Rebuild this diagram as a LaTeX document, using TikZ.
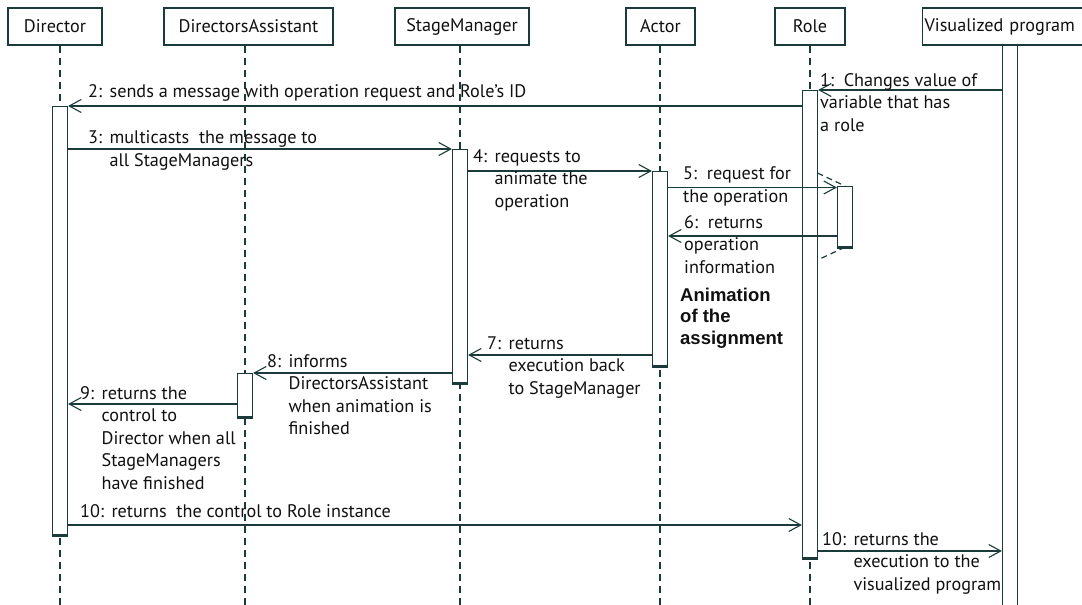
\documentclass[tikz,border=0pt]{standalone}
\usepackage{fontspec}
\setmainfont{PT Sans}
\newfontfamily\notefont{Liberation Sans}
\usetikzlibrary{arrows.meta}
\definecolor{seqline}{HTML}{1B3A3A}
\definecolor{seqtext}{HTML}{101010}

% message label: number, then the text lines aligned after it
\newcommand{\msglabel}[2]{\begin{tabular}[t]{@{}l@{\hspace{7.5pt}}l@{}}#1&\begin{tabular}[t]{@{}l@{}}#2\end{tabular}\end{tabular}}
% message label whose lines all start at the number
\newcommand{\flatlabel}[1]{\begin{tabular}[t]{@{}l@{}}#1\end{tabular}}

\begin{document}
\begin{tikzpicture}[x=1pt,y=-1pt,
  every node/.style={text=seqtext},
  obj/.style={draw=seqline, line width=1.2pt, fill=white, inner sep=0pt,
    minimum height=37pt, font=\fontsize{18.2}{22.5}\selectfont},
  life/.style={draw=seqline, line width=1.2pt, dash pattern=on 7pt off 5pt},
  actbar/.style={draw=seqline, line width=1.2pt, fill=white, inner sep=0pt,
    minimum width=15pt, anchor=north},
  barbase/.style={draw=seqline, line width=3pt},
  msg/.style={draw=seqline, line width=1.1pt,
    -{Straight Barb[length=12pt,width=13pt]}},
  lbl/.style={anchor=base west, inner sep=0pt,
    font=\fontsize{18.2}{22.5}\selectfont},
  note/.style={anchor=base west, inner sep=0pt,
    font=\notefont\bfseries\fontsize{18.5}{21.5}\selectfont}
]
\useasboundingbox (0,0) rectangle (1082,605);
\clip (0,0) rectangle (1082,605);

% participants
\node[obj, minimum width=94pt]  (director)  at (55,26.5)    {Director};
\node[obj, minimum width=169pt] (assistant) at (248.5,26.5) {DirectorsAssistant};
\node[obj, minimum width=134pt] (stage)     at (462,26.5)   {StageManager};
\node[obj, minimum width=69pt]  (actor)     at (660.5,26.5) {Actor};
\node[obj, minimum width=70pt]  (role)      at (810,26.5)   {Role};
\node[obj, anchor=west, text width=171pt, align=left, inner xsep=2pt]
  (vprog) at (922,26.5) {Visualized program};

% lifelines
\coordinate (dirend)  at (60,605);
\coordinate (asend)   at (245,605);
\coordinate (smend)   at (460,605);
\coordinate (acend)   at (660,605);
\coordinate (roend)   at (810,605);
\draw[life] (dirend |- director.south) -- (dirend);
\draw[life] (asend |- assistant.south) -- (asend);
\draw[life] (smend |- stage.south) -- (smend);
\draw[life] (acend |- actor.south) -- (acend);
\draw[life] (roend |- role.south) -- (roend);

% activation bars
\node[actbar, minimum height=428pt] (dirbar)  at (60,106)  {};
\node[actbar, minimum height=467pt] (rolebar) at (810,90)  {};
\node[actbar, minimum height=570pt] (vpbar)   at (1010,45) {};
\node[actbar, minimum height=233pt] (smbar)   at (460,149) {};
\node[actbar, minimum height=194pt] (acbar)   at (660,171) {};
\node[actbar, minimum height=43pt]  (asbar)   at (245,373) {};
\node[actbar, minimum height=60pt]  (selfbar) at (845,186) {};
\foreach \b in {dirbar,rolebar,smbar,acbar,asbar,selfbar}
  \draw[barbase] (\b.south west) -- (\b.south east);

% nested call on Role
\coordinate (selfin)  at (817.5,173);
\coordinate (selfout) at (817.5,260);
\draw[life, dash pattern=on 6pt off 4pt] (selfin) -- (selfbar.north);
\draw[life, dash pattern=on 6pt off 4pt] (selfbar.south) -- (selfout);

% messages
\draw[msg] (vpbar.west |- 0,90)     -- (rolebar.east |- 0,90);
\draw[msg] (rolebar.west |- 0,106)  -- (dirbar.east |- 0,106);
\draw[msg] (dirbar.east |- 0,149)   -- (smbar.west |- 0,149);
\draw[msg] (smbar.east |- 0,171)    -- (acbar.west |- 0,171);
\draw[msg] (acbar.east |- 0,187.5)  -- (selfbar.west |- 0,187.5);
\draw[msg] (selfbar.west |- 0,236)  -- (acbar.east |- 0,236);
\draw[msg] (acbar.west |- 0,355)    -- (smbar.east |- 0,355);
\draw[msg] (smbar.west |- 0,373)    -- (asbar.east |- 0,373);
\draw[msg] (asbar.west |- 0,404)    -- (dirbar.east |- 0,404);
\draw[msg] (dirbar.east |- 0,525)   -- (rolebar.west |- 0,525);
\draw[msg] (rolebar.east |- 0,551)  -- (vpbar.west |- 0,551);

% message labels
\node[lbl] (l1) at (820,86) {\flatlabel{1:\ \ Changes value of\\variable that has\\a role}};
\node[lbl] (l2) at (88,97) {\msglabel{2:}{sends a message with operation request and Role’s ID}};
\node[lbl] (l3) at (88,143.5) {\msglabel{3:}{multicasts\ \ the message to\\all StageManagers}};
\node[lbl] (l4) at (473,162) {\msglabel{4:}{requests to\\animate the\\operation}};
\node[lbl] (l5) at (683,179.5) {\flatlabel{5:\ \ request for\\the operation}};
\node[lbl] (l6) at (684,228) {\flatlabel{6:\ \ returns\\operation\\information}};
\node[lbl] (l7) at (487,349) {\msglabel{7:}{returns\\execution back\\to StageManager}};
\node[lbl] (l8) at (267,367) {\msglabel{8:}{informs\\DirectorsAssistant\\when animation is\\finished}};
\node[lbl] (l9) at (80,399) {\msglabel{9:}{returns the\\control to\\Director when all\\StageManagers\\have finished}};
\node[lbl] (l10) at (80,517) {\msglabel{10:}{returns\ \ the control to Role instance}};
\node[lbl] (l11) at (822,545) {\msglabel{10:}{returns the\\execution to the\\visualized program}};

% note beside the Actor
\node[note] (anim) at (680,301) {\flatlabel{Animation\\of the\\assignment}};
\end{tikzpicture}
\end{document}
